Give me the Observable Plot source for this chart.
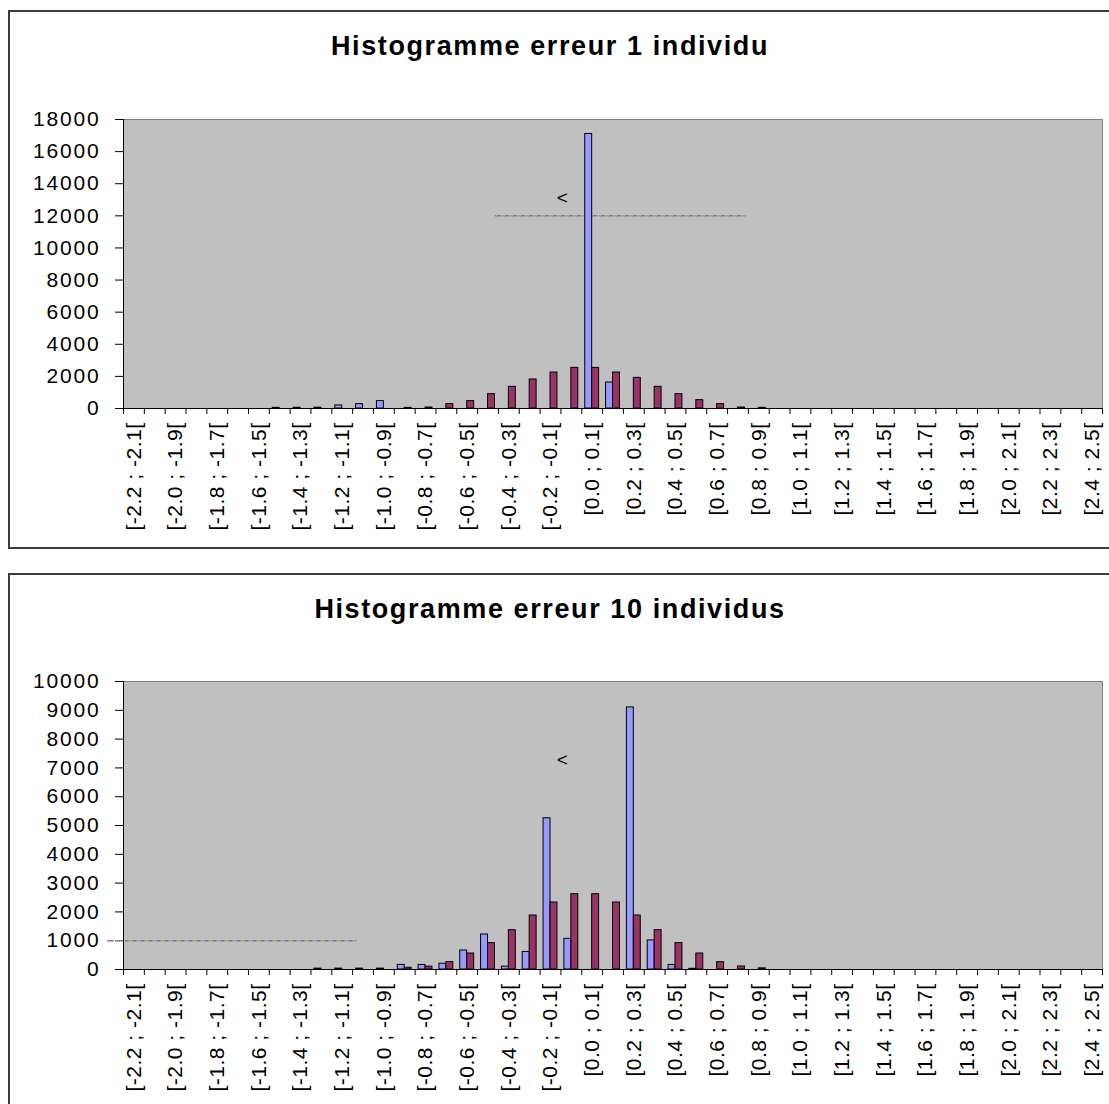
<!DOCTYPE html>
<html><head><meta charset="utf-8">
<script src="https://cdn.jsdelivr.net/npm/d3@7"></script>
<script src="https://cdn.jsdelivr.net/npm/@observablehq/plot@0.6"></script>
<style>
html,body{margin:0;padding:0;background:#fff;overflow:hidden;}
#page{position:relative;width:1109px;height:1104px;overflow:hidden;font-family:"Liberation Sans",Arial,sans-serif;}
.box{position:absolute;border:2px solid #3c3c3c;box-sizing:border-box;}
.title{position:absolute;left:0;width:1100px;text-align:center;font-weight:bold;font-size:27px;line-height:31px;letter-spacing:1.6px;color:#000;}
.chart{position:absolute;left:0;}
.chart svg{display:block;}
.chart svg [aria-label^="y-axis"] text{letter-spacing:1.8px;}
.chart svg [aria-label^="x-axis"] text{letter-spacing:0.5px;}
</style></head><body>
<div id="page">
  <div class="box" style="left:8px;top:10px;width:1130px;height:539px"></div>
  <div class="box" style="left:8px;top:573px;width:1130px;height:600px"></div>
  <div class="chart" id="c1" style="top:0"></div>
  <div class="chart" id="c2" style="top:560px"></div>
  <div class="title" style="top:31px">Histogramme erreur 1 individu</div>
  <div class="title" style="top:594px">Histogramme erreur 10 individus</div>
</div>
<script>
const categories = [
  "[-2.2 ; -2.1[", "[-2.1 ; -2.0[", "[-2.0 ; -1.9[", "[-1.9 ; -1.8[", "[-1.8 ; -1.7[", "[-1.7 ; -1.6[",
  "[-1.6 ; -1.5[", "[-1.5 ; -1.4[", "[-1.4 ; -1.3[", "[-1.3 ; -1.2[", "[-1.2 ; -1.1[", "[-1.1 ; -1.0[",
  "[-1.0 ; -0.9[", "[-0.9 ; -0.8[", "[-0.8 ; -0.7[", "[-0.7 ; -0.6[", "[-0.6 ; -0.5[", "[-0.5 ; -0.4[",
  "[-0.4 ; -0.3[", "[-0.3 ; -0.2[", "[-0.2 ; -0.1[", "[-0.1 ; 0.0[", "[0.0 ; 0.1[", "[0.1 ; 0.2[",
  "[0.2 ; 0.3[", "[0.3 ; 0.4[", "[0.4 ; 0.5[", "[0.5 ; 0.6[", "[0.6 ; 0.7[", "[0.7 ; 0.8[",
  "[0.8 ; 0.9[", "[0.9 ; 1.0[", "[1.0 ; 1.1[", "[1.1 ; 1.2[", "[1.2 ; 1.3[", "[1.3 ; 1.4[",
  "[1.4 ; 1.5[", "[1.5 ; 1.6[", "[1.6 ; 1.7[", "[1.7 ; 1.8[", "[1.8 ; 1.9[", "[1.9 ; 2.0[",
  "[2.0 ; 2.1[", "[2.1 ; 2.2[", "[2.2 ; 2.3[", "[2.3 ; 2.4[", "[2.4 ; 2.5["
];
const xTickLabels = [
  "[-2.2 ; -2.1[", "[-2.0 ; -1.9[", "[-1.8 ; -1.7[", "[-1.6 ; -1.5[", "[-1.4 ; -1.3[", "[-1.2 ; -1.1[",
  "[-1.0 ; -0.9[", "[-0.8 ; -0.7[", "[-0.6 ; -0.5[", "[-0.4 ; -0.3[", "[-0.2 ; -0.1[", "[0.0 ; 0.1[",
  "[0.2 ; 0.3[", "[0.4 ; 0.5[", "[0.6 ; 0.7[", "[0.8 ; 0.9[", "[1.0 ; 1.1[", "[1.2 ; 1.3[",
  "[1.4 ; 1.5[", "[1.6 ; 1.7[", "[1.8 ; 1.9[", "[2.0 ; 2.1[", "[2.2 ; 2.3[", "[2.4 ; 2.5["
];

// Chart 1 : erreur 1 individu
const top_serie1 = [
  0,0,0,0,0,0,0, 40,45,50,190,270,460, 0,0,0,0,0,0,0,0,0, 17100,1620,
  0,0,0,0,0,0,0,0,0,0,0,0,0,0,0,0,0,0,0,0,0,0,0
];
const top_serie2 = [
  0,0,0,0,0,0,0,0,0,0,0,0,0, 40,60,270,460,890,1350,1810,2240,2530,2530,2240,1910,1350,890,520,270,60,40,
  0,0,0,0,0,0,0,0,0,0,0,0,0,0,0,0
];
const top_yTicks = [0, 2000, 4000, 6000, 8000, 10000, 12000, 14000, 16000, 18000];

// Chart 2 : erreur 10 individus
const bot_serie1 = [
  0,0,0,0,0,0,0,0,0, 30,30,30,30,160,160,200,660,1215,100,610,5250,1065,0,0,9100,1010,160,25,
  0,0,0,0,0,0,0,0,0,0,0,0,0,0,0,0,0,0,0
];
const bot_serie2 = [
  0,0,0,0,0,0,0,0,0,0,0,0,0, 60,100,255,555,915,1365,1875,2325,2615,2615,2325,1875,1365,915,555,255,105,40,
  0,0,0,0,0,0,0,0,0,0,0,0,0,0,0,0
];
const bot_yTicks = [0, 1000, 2000, 3000, 4000, 5000, 6000, 7000, 8000, 9000, 10000];

// stray drawing objects visible on the original sheet
const top_refLine = [12000];
const bot_refLine = [1000];
const top_caret = [{cat: "[-0.1 ; 0.0[", y: 13100}];
const bot_caret = [{cat: "[-0.1 ; 0.0[", y: 7290}];

const COLORS = {s1: "#9999ff", s2: "#993366"};

function histogram(cfg) {
  const W = 1109, ML = 123, MR = 7;
  const step = (W - ML - MR) / categories.length;
  const s1 = categories.map((c, i) => ({cat: c, v: cfg.s1[i]})).filter(d => d.v > 0);
  const s2 = categories.map((c, i) => ({cat: c, v: cfg.s2[i]})).filter(d => d.v > 0);
  const dashColors = [["#b45fb4", 0, "3,5"], ["#6fae5f", 3, "2,6"], ["#6f6fe0", 5, "2,6"], ["#c8b04a", 7, "1,7"]];
  return Plot.plot({
    width: W, height: cfg.height,
    marginLeft: ML, marginRight: MR, marginTop: cfg.marginTop, marginBottom: cfg.marginBottom,
    style: {background: "none", fontFamily: "Liberation Sans, Arial, sans-serif", fontSize: "21px", color: "#000", overflow: "visible"},
    x: {type: "band", domain: categories, padding: 0, label: null, ticks: xTickLabels,
        tickRotate: -90, tickSize: 0, tickPadding: 14},
    y: {domain: [0, cfg.yTicks[cfg.yTicks.length - 1]], ticks: cfg.yTicks, tickFormat: d => String(d),
        tickSize: 8, tickPadding: 15, label: null},
    marks: [
      Plot.frame({fill: "#c0c0c0", stroke: "#808080"}),
      ...dashColors.map(([col, off, dash]) => Plot.ruleY(cfg.ref, {
        x1: () => cfg.refFrom, x2: () => cfg.refTo,
        insetLeft: cfg.refInsetLeft, insetRight: cfg.refInsetRight,
        stroke: col, strokeWidth: 1.5, strokeDasharray: dash, strokeDashoffset: off
      })),
      Plot.text(cfg.caret, {x: "cat", y: "y", text: () => "<", dx: -9, fontSize: 19, fill: "#000"}),
      Plot.barY(s1, {x: "cat", y: "v", fill: COLORS.s1, stroke: "#000", strokeWidth: 1,
                     insetLeft: step / 6, insetRight: step / 2}),
      Plot.barY(s2, {x: "cat", y: "v", fill: COLORS.s2, stroke: "#000", strokeWidth: 1,
                     insetLeft: step / 2, insetRight: step / 6}),
      Plot.ruleY([0], {stroke: "#000"}),
      Plot.ruleX([categories[0]], {dx: -step / 2, stroke: "#000"}),
      Plot.ruleX(categories, {y1: 0, y2: 0, insetBottom: -6, dx: -step / 2, stroke: "#000"}),
      Plot.ruleX([categories[categories.length - 1]], {y1: 0, y2: 0, insetBottom: -6, dx: step / 2, stroke: "#000"})
    ]
  });
}

document.getElementById("c1").append(histogram({
  s1: top_serie1, s2: top_serie2, yTicks: top_yTicks,
  height: 548, marginTop: 119, marginBottom: 140,
  ref: top_refLine, refFrom: "[-0.4 ; -0.3[", refTo: "[0.7 ; 0.8[", refInsetLeft: -3, refInsetRight: 2,
  caret: top_caret
}));
document.getElementById("c2").append(histogram({
  s1: bot_serie1, s2: bot_serie2, yTicks: bot_yTicks,
  height: 544, marginTop: 121, marginBottom: 135,
  ref: bot_refLine, refFrom: "[-2.2 ; -2.1[", refTo: "[-1.2 ; -1.1[", refInsetLeft: -16, refInsetRight: -5,
  caret: bot_caret
}));
</script>
</body></html>
